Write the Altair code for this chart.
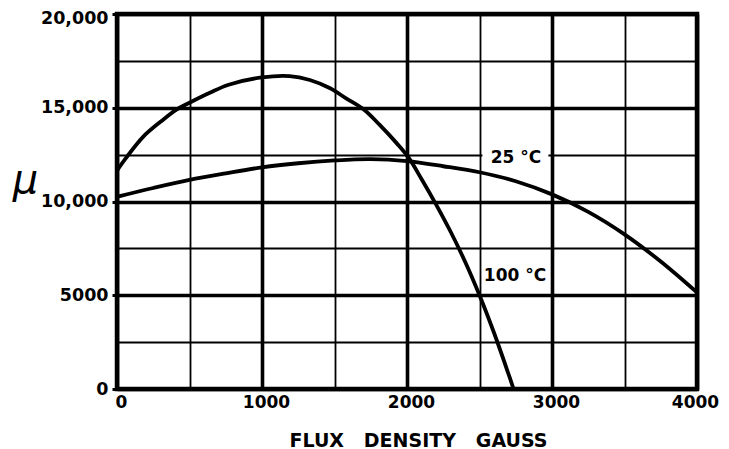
import altair as alt
import pandas as pd

# ---- data ----
flux_25 = [0, 250, 500, 750, 1000, 1250, 1500, 1750, 2000, 2250, 2500, 2750, 3000, 3250, 3500, 3750, 4000]
mu_25 = [10250, 10720, 11150, 11500, 11820, 12040, 12190, 12260, 12150, 11880, 11560, 11080, 10380, 9450, 8250, 6800, 5150]

flux_100 = [0, 60, 180, 300, 410, 500, 640, 770, 1000, 1190, 1330, 1470, 1580, 1700, 1810, 1930, 2010, 2100, 2200, 2300, 2400, 2500, 2600, 2700, 2735]
mu_100 = [11650, 12300, 13450, 14250, 14900, 15270, 15800, 16230, 16620, 16690, 16480, 16040, 15500, 14920, 14100, 13100, 12350, 11200, 9850, 8400, 6800, 5000, 3000, 800, 0]

x_grid = [0, 500, 1000, 1500, 2000, 2500, 3000, 3500, 4000]
x_tick_values = [0, 1000, 2000, 3000, 4000]
x_tick_labels = ["0", "1000", "2000", "3000", "4000"]

y_grid = [0, 2500, 5000, 7500, 10000, 12500, 15000, 17500, 20000]
y_tick_values = [0, 5000, 10000, 15000, 20000]
y_tick_labels = ["0", "5000", "10,000", "15,000", "20,000"]

label_text = ["25 °C", "100 °C"]
label_x = [2752, 2745]
label_y = [12320, 6030]

# white box that interrupts the grid line behind the "25 °C" label
bg_x = [2520]
bg_x2 = [2975]
bg_y = [11800]
bg_y2 = [12850]

# ---- tables ----
curves = pd.concat([
    pd.DataFrame({"flux": flux_25, "mu": mu_25, "series": "25 °C"}),
    pd.DataFrame({"flux": flux_100, "mu": mu_100, "series": "100 °C"}),
])
labels = pd.DataFrame({"text": label_text, "flux": label_x, "mu": label_y})
bg = pd.DataFrame({"x": bg_x, "x2": bg_x2, "y": bg_y, "y2": bg_y2})


def label_expr(values, texts):
    expr = "''"
    for v, t in zip(values, texts):
        expr = f"datum.value === {v} ? '{t}' : ({expr})"
    return expr


FONT = "DejaVu Sans"

x_scale = alt.Scale(domain=[0, 4000], nice=False, zero=False)
y_scale = alt.Scale(domain=[0, 20000], nice=False, zero=False)

x_axis = alt.Axis(
    values=x_grid,
    labelExpr=label_expr(x_tick_values, x_tick_labels),
    grid=True,
    gridColor="black",
    gridOpacity=1,
    gridWidth={"condition": {"test": "datum.value % 1000 === 0", "value": 3.6}, "value": 1.8},
    ticks=False,
    domain=False,
    labelFont=FONT,
    labelFontWeight="bold",
    labelFontSize=17,
    labelColor="black",
    labelPadding=5,
    labelOffset={"condition": {"test": "datum.value === 4000", "value": -2}, "value": 4},
    labelFlush=False,
    labelOverlap=False,
    title="FLUX\u00a0\u00a0\u00a0DENSITY\u00a0\u00a0\u00a0GAUSS",
    titleFont=FONT,
    titleFontWeight="bold",
    titleFontSize=19,
    titleColor="black",
    titleAnchor="start",
    titleAlign="center",
    titleBaseline="alphabetic",
    titleX=301,
    titleY=57,
)

y_axis = alt.Axis(
    values=y_grid,
    labelExpr=label_expr(y_tick_values, y_tick_labels),
    grid=True,
    gridColor="black",
    gridOpacity=1,
    gridWidth={"condition": {"test": "datum.value % 5000 === 0", "value": 3.6}, "value": 1.8},
    ticks=True,
    tickSize=5,
    tickWidth=3,
    tickColor="black",
    tickOpacity={"condition": {"test": "datum.value % 5000 === 0", "value": 1}, "value": 0},
    domain=False,
    labelFont=FONT,
    labelFontWeight="bold",
    labelFontSize=17.5,
    labelColor="black",
    labelPadding=4,
    labelOffset={"condition": {"test": "datum.value === 20000", "value": 4}, "value": 0},
    labelFlush=False,
    labelOverlap=False,
    title="μ",
    titleFont=FONT,
    titleFontStyle="italic",
    titleFontWeight="normal",
    titleFontSize=40,
    titleColor="black",
    titleAngle=0,
    titleAlign="center",
    titleBaseline="alphabetic",
    titleX=-92,
    titleY=178,
)

lines = alt.Chart(curves).mark_line(
    color="black", strokeWidth=3.8, interpolate="catmull-rom", clip=True
).encode(
    x=alt.X("flux:Q", scale=x_scale, axis=x_axis),
    y=alt.Y("mu:Q", scale=y_scale, axis=y_axis),
    detail="series:N",
)

box = alt.Chart(bg).mark_rect(color="white").encode(
    x=alt.X("x:Q", scale=x_scale),
    x2="x2:Q",
    y=alt.Y("y:Q", scale=y_scale),
    y2="y2:Q",
)

text = alt.Chart(labels).mark_text(
    font=FONT, fontWeight="bold", fontSize=17, color="black", align="center", baseline="middle"
).encode(
    x=alt.X("flux:Q", scale=x_scale),
    y=alt.Y("mu:Q", scale=y_scale),
    text="text:N",
)

chart = alt.layer(box, lines, text).properties(
    width=580,
    height=375,
    autosize=alt.AutoSizeParams(type="none"),
    padding={"left": 109, "top": 6, "right": 22, "bottom": 60},
    background="white",
).configure_view(
    stroke="black",
    strokeWidth=4.5,
)

chart.save("out.html", embed_options={"renderer": "svg", "actions": False})
